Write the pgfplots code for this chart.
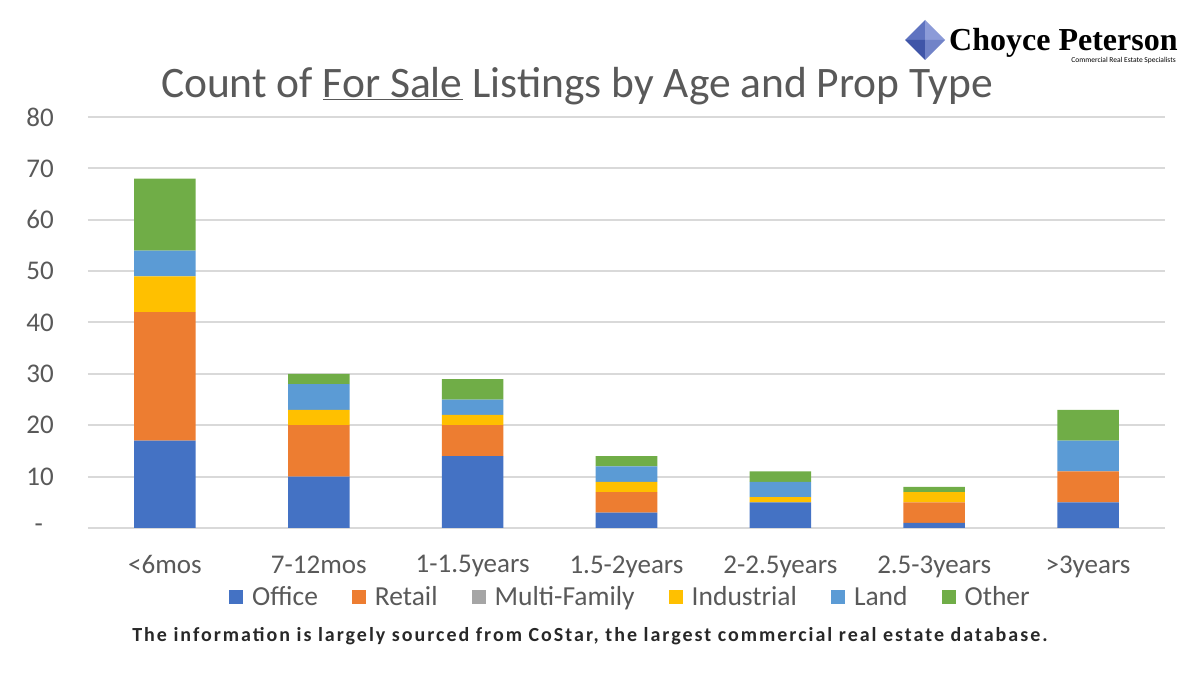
\documentclass[border=0pt]{standalone}
\usepackage{pgfplots}
\pgfplotsset{compat=1.18}
\usepackage{fontspec}
\setmainfont{Carlito}
\newfontfamily\logofont{Liberation Serif}
\newfontfamily\notefont[LetterSpace=10]{Carlito}

\definecolor{office}{HTML}{4472C4}
\definecolor{retail}{HTML}{ED7D31}
\definecolor{multifam}{HTML}{A5A5A5}
\definecolor{industrial}{HTML}{FFC000}
\definecolor{land}{HTML}{5B9BD5}
\definecolor{other}{HTML}{70AD47}
\definecolor{txtgray}{HTML}{595959}
\definecolor{gridgray}{HTML}{D9D9D9}
\definecolor{logoA}{HTML}{5F73C0}
\definecolor{logoB}{HTML}{8C9BD8}
\definecolor{logoC}{HTML}{3F55A8}
\definecolor{logoD}{HTML}{7183C8}
\definecolor{notegray}{HTML}{282828}

% Listings by age bucket (0 = <6mos ... 6 = >3years)
\pgfplotstableread{
x office retail multifam industrial land other
0 17 25 0 7 5 14
1 10 10 0 3 5 2
2 14  6 0 2 3 4
3  3  4 0 2 3 2
4  5  0 0 1 3 2
5  1  4 0 2 0 1
6  5  6 0 0 6 6
}\listings

\begin{document}
\begin{tikzpicture}[x=1pt,y=1pt]
  % canvas
  \path[use as bounding box] (0,0) rectangle (1200,675);

  % title
  \node[text=txtgray, font=\fontsize{43.5}{50}\selectfont] at (577,589)
    {Count of \underline{For Sale} Listings by Age and Prop Type};

  % logo diamond
  \fill[logoA] (925,655) -- (905,635) -- (925,635) -- cycle;
  \fill[logoB] (925,655) -- (945,635) -- (925,635) -- cycle;
  \fill[logoC] (905,635) -- (925,615) -- (925,635) -- cycle;
  \fill[logoD] (945,635) -- (925,615) -- (925,635) -- cycle;
  \node[anchor=base west, inner sep=0pt, font=\logofont\bfseries\fontsize{32}{34}\selectfont] at (949,624)
    {Choyce Peterson};
  \node[anchor=base east, inner sep=0pt, font=\fontsize{7.5}{8}\selectfont] at (1176,612)
    {Commercial Real Estate Specialists};

  \begin{axis}[
    at={(88pt,147pt)}, anchor=south west,
    scale only axis, width=1077pt, height=411pt,
    ybar stacked, bar width=0.4,
    xmin=-0.5, xmax=6.5, ymin=0, ymax=80,
    xtick=data,
    xticklabels={<6mos,7-12mos,1-1.5years,1.5-2years,2-2.5years,2.5-3years,>3years},
    ytick={0,10,...,80},
    yticklabels={-\kern11pt,10,20,30,40,50,60,70,80},
    /pgf/number format/assume math mode=true,
    axis line style={draw=none},
    major tick length=0pt,
    ymajorgrids, grid style={gridgray, line width=2pt},
    tick label style={text=txtgray, font=\fontsize{27}{31}\selectfont},
    yticklabel style={xshift=-34pt, inner sep=0pt},
    xticklabel style={yshift=-24pt},
    legend style={
      at={(0.5,0)}, anchor=center, xshift=4pt, yshift=-69pt,
      draw=none, fill=none,
      legend columns=6,
      font=\fontsize{27.5}{31}\selectfont, text=txtgray,
      /tikz/every odd column/.append style={column sep=7pt},
      /tikz/every even column/.append style={column sep=32pt},
      legend cell align=left,
    },
    legend image code/.code={\fill[#1] (0pt,-7pt) rectangle (14pt,7pt);},
    every axis plot/.append style={draw=none},
    clip=false,
  ]
    \addplot[fill=office] table[x=x,y=office] {\listings};
    \addplot[fill=retail] table[x=x,y=retail] {\listings};
    \addplot[fill=multifam] table[x=x,y=multifam] {\listings};
    \addplot[fill=industrial] table[x=x,y=industrial] {\listings};
    \addplot[fill=land] table[x=x,y=land] {\listings};
    \addplot[fill=other] table[x=x,y=other] {\listings};
    \legend{Office,Retail,Multi-Family,Industrial,Land,Other}
  \end{axis}

  % source note
  \node[text=notegray, font=\notefont\bfseries\fontsize{20}{23}\selectfont] at (590,39)
    {The information is largely sourced from CoStar, the largest commercial real estate database.};
\end{tikzpicture}
\end{document}
